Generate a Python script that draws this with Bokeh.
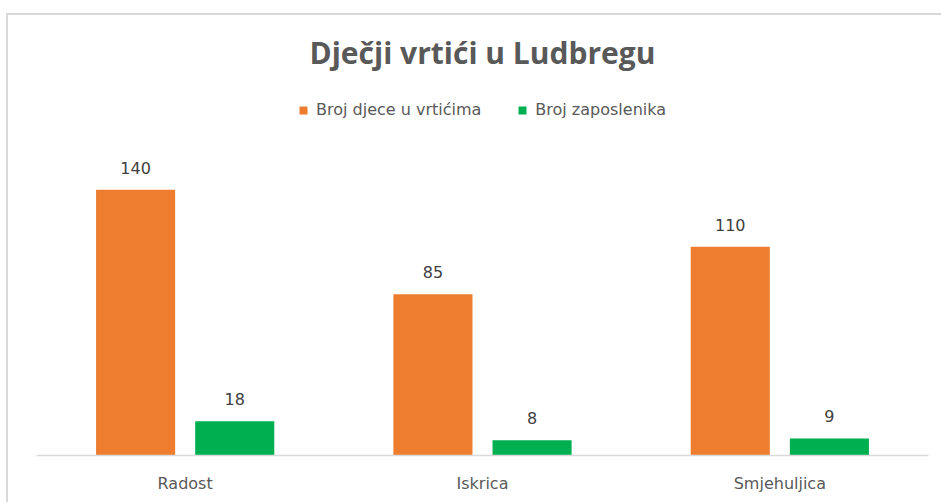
from bokeh.plotting import figure
from bokeh.models import ColumnDataSource, Legend, LegendItem
from bokeh.transform import dodge
from bokeh.core.properties import value
from bokeh.embed import file_html
from bokeh.resources import INLINE

categories = ["Radost", "Iskrica", "Smjehuljica"]
djeca = [140, 85, 110]
zaposlenici = [18, 8, 9]
series_names = ["Broj djece u vrtićima", "Broj zaposlenika"]
title_text = "Dječji vrtići u Ludbregu"

src = ColumnDataSource(dict(cat=categories, djeca=djeca, zap=zaposlenici,
                            djeca_lbl=[str(v) for v in djeca],
                            zap_lbl=[str(v) for v in zaposlenici]))

TFONT = "Open Sans"
FONT = "DejaVu Sans"
p = figure(x_range=categories, y_range=(0, 195), width=935, height=489,
           output_backend="svg", toolbar_location=None, title=title_text,
           min_border_left=30, min_border_right=13, min_border_bottom=47,
           min_border_top=72, margin=(13, 0, 0, 6))
p.styles = {"box-shadow": "inset 2px 2px 0 0 #d9d9d9"}
p.border_fill_alpha = 0
p.background_fill_color = None
p.outline_line_color = None
p.title.text_font = TFONT
p.title.text_font_size = "30px"
p.title.text_color = "#595959"
p.title.align = "center"
p.title.text_font_style = "bold"
p.title.standoff = 25

r1 = p.vbar(x=dodge("cat", -0.1667, range=p.x_range), top="djeca", width=0.266,
            source=src, fill_color="#EE7D30", line_color=None)
r2 = p.vbar(x=dodge("cat", 0.1667, range=p.x_range), top="zap", width=0.266,
            source=src, fill_color="#00B050", line_color=None)

p.text(x=dodge("cat", -0.1667, range=p.x_range), y="djeca", text="djeca_lbl", source=src,
       y_offset=-16, text_align="center", text_baseline="bottom",
       text_font=value(FONT), text_font_size="16px", text_color="#404040")
p.text(x=dodge("cat", 0.1667, range=p.x_range), y="zap", text="zap_lbl", source=src,
       y_offset=-16, text_align="center", text_baseline="bottom",
       text_font=value(FONT), text_font_size="16px", text_color="#404040")

p.yaxis.visible = False
p.ygrid.visible = False
p.xgrid.visible = False
p.xaxis.axis_line_color = "#d9d9d9"
p.xaxis.axis_line_width = 1.5
p.xaxis.major_tick_line_color = None
p.xaxis.minor_tick_line_color = None
p.xaxis.major_label_text_font = FONT
p.xaxis.major_label_text_font_size = "16px"
p.xaxis.major_label_text_color = "#595959"
p.xaxis.major_label_standoff = 12
p.x_range.range_padding = 0

legend = Legend(items=[LegendItem(label=series_names[0], renderers=[r1]),
                       LegendItem(label=series_names[1], renderers=[r2])],
                orientation="horizontal", location=(262, 336),
                glyph_width=10, glyph_height=10, label_standoff=8, spacing=36,
                margin=0, padding=0, border_line_color=None,
                background_fill_alpha=0,
                label_text_font=FONT, label_text_font_size="16px",
                label_text_color="#595959")
p.add_layout(legend)

open("out.html", "w").write(file_html(p, INLINE))
